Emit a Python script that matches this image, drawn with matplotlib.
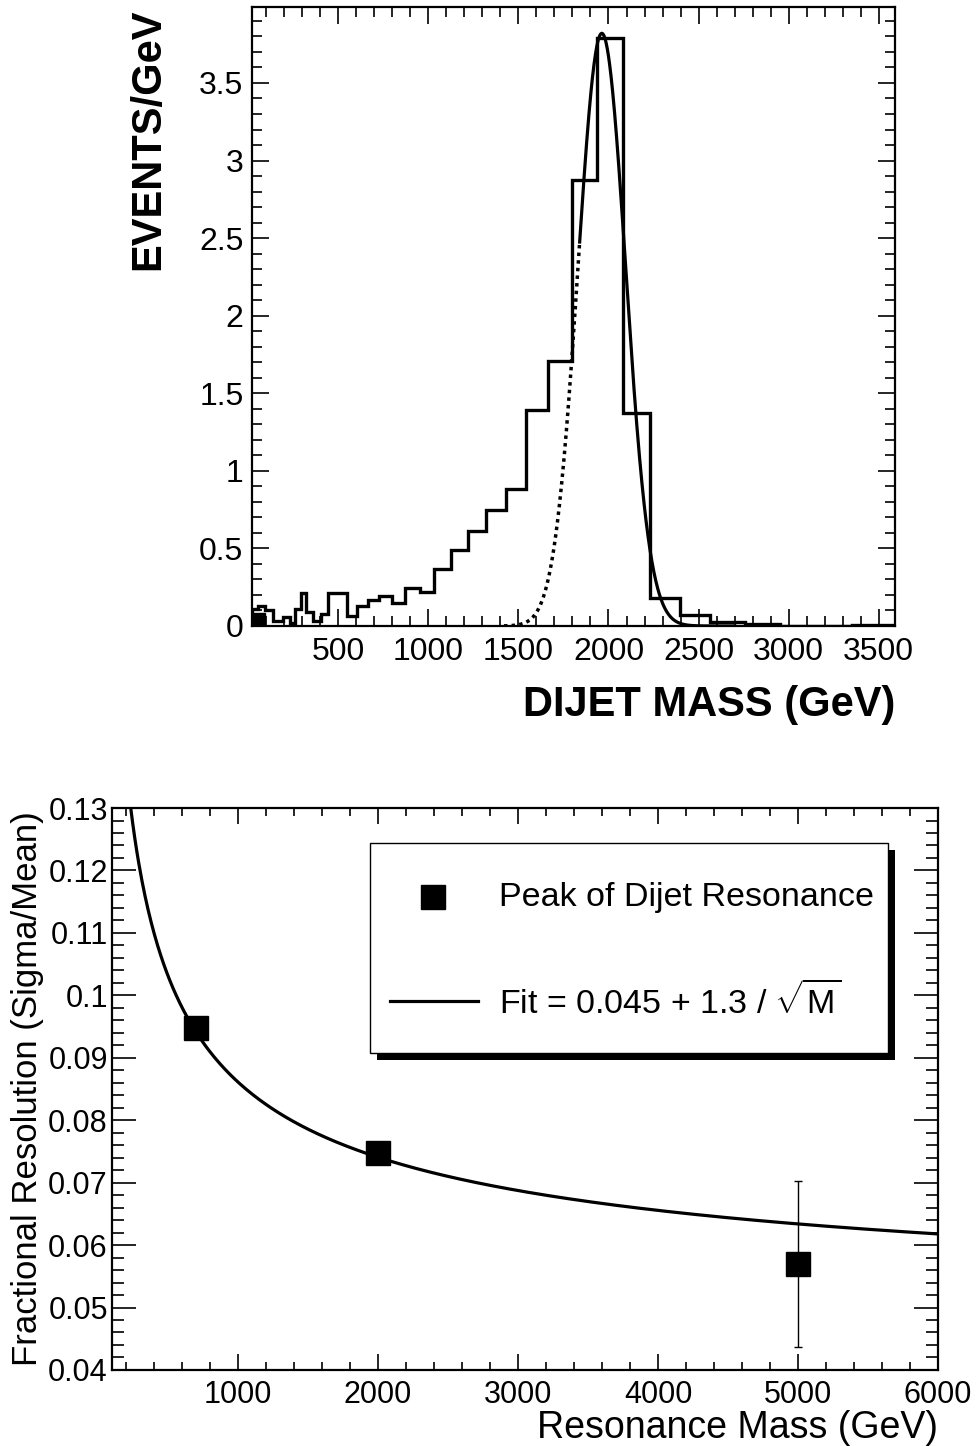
import numpy as np
import matplotlib
matplotlib.use("Agg")
import matplotlib.pyplot as plt
from matplotlib.patches import Rectangle
from matplotlib.ticker import MultipleLocator, FormatStrFormatter

plt.rcParams['font.family'] = ['Liberation Sans', 'DejaVu Sans']
plt.rcParams['mathtext.fontset'] = 'custom'
plt.rcParams['mathtext.rm'] = 'Liberation Sans'

# dijet mass spectrum for a 2 TeV resonance (variable bins, GeV)
mass_edges = [20, 55, 93, 139, 193, 232, 260, 293, 322, 358,
              404, 446, 495, 550, 604, 665, 725, 800, 869, 954,
              1033, 1124, 1222, 1320, 1430, 1543, 1666, 1796, 1939, 2081,
              2231, 2397, 2566, 2757, 2950, 3150, 3353, 3590]
events_per_gev = [0.11, 0.13, 0.10, 0.035, 0.06, 0.02, 0.11, 0.21, 0.09, 0.035,
                  0.08, 0.21, 0.21, 0.065, 0.13, 0.165, 0.19, 0.15, 0.245, 0.22,
                  0.37, 0.49, 0.61, 0.75, 0.885, 1.395, 1.705, 2.875, 3.79, 1.37,
                  0.18, 0.068, 0.024, 0.011, 0.003, 0.003, 0.007]
low_marker_x = [60]
low_marker_y = [0.045]

# gaussian fit to the peak
fit_norm = 3.82
fit_mean = 1963.0
fit_sigma = 132.0
fit_range = (1840, 2700)
fit_extension = (1420, 1840)

# fractional resolution vs resonance mass
res_mass = [700, 2000, 5000]
res_frac = [0.0947, 0.0748, 0.0570]
res_err = [0.0012, 0.0004, 0.0133]
res_a = 0.045
res_b = 1.3


def gauss(x):
    return fit_norm * np.exp(-0.5 * ((x - fit_mean) / fit_sigma) ** 2)


fig = plt.figure(figsize=(9.78, 14.46), dpi=100)

# ---- top: dijet mass histogram ----
ax1 = fig.add_axes([0.2574, 0.5671, 0.6577, 0.4281])
ax1.stairs(events_per_gev, mass_edges, color='black', lw=2.4, baseline=0)
ax1.plot(low_marker_x, low_marker_y, 's', color='black', ms=9)

xs = np.linspace(*fit_range, 400)
ax1.plot(xs, gauss(xs), color='black', lw=2.3)
xd = np.linspace(*fit_extension, 200)
ax1.plot(xd, gauss(xd), color='black', lw=2.5, linestyle=(0, (1, 1.2)))

ax1.set_xlim(20, 3590)
ax1.set_ylim(0, 3.99)
ax1.xaxis.set_major_locator(MultipleLocator(500))
ax1.xaxis.set_minor_locator(MultipleLocator(100))
ax1.yaxis.set_major_locator(MultipleLocator(0.5))
ax1.yaxis.set_minor_locator(MultipleLocator(0.1))
ax1.yaxis.set_major_formatter(FormatStrFormatter('%g'))
ax1.tick_params(which='both', direction='in', top=True, right=True, width=1.2)
ax1.tick_params(which='major', length=12, labelsize=23)
ax1.tick_params(which='minor', length=7)
ax1.tick_params(axis='x', which='major', pad=8)
ax1.tick_params(axis='y', which='major', pad=6)
for s in ax1.spines.values():
    s.set_linewidth(1.6)

ax1.set_xlabel('DIJET MASS (GeV)', fontsize=30, fontweight='bold', loc='right', va='center')
ax1.xaxis.set_label_coords(1.0, -0.128)
ax1.set_ylabel('EVENTS/GeV', fontsize=30, fontweight='bold', loc='top', va='center')
ax1.yaxis.set_label_coords(-0.161, 0.997)

# ---- bottom: resolution vs mass ----
ax2 = fig.add_axes([0.1145, 0.0526, 0.8446, 0.3886])
m = np.linspace(100, 6000, 800)
ax2.plot(m, res_a + res_b / np.sqrt(m), color='black', lw=2.3)
ax2.errorbar(res_mass, res_frac, yerr=res_err, fmt='none', ecolor='black',
             elinewidth=1.0, capsize=3, capthick=1.0)
ax2.plot(res_mass, res_frac, 's', color='black', ms=17)

ax2.set_xlim(100, 6000)
ax2.set_ylim(0.04, 0.13)
ax2.xaxis.set_major_locator(MultipleLocator(1000))
ax2.xaxis.set_minor_locator(MultipleLocator(200))
ax2.yaxis.set_major_locator(MultipleLocator(0.01))
ax2.yaxis.set_minor_locator(MultipleLocator(0.002))
ax2.yaxis.set_major_formatter(FormatStrFormatter('%g'))
ax2.tick_params(which='both', direction='in', top=True, right=True, width=1.2)
ax2.tick_params(axis='x', which='major', length=11.5, labelsize=22, pad=7)
ax2.tick_params(axis='x', which='minor', length=6)
ax2.tick_params(axis='y', which='major', length=17, labelsize=22, pad=3)
ax2.tick_params(axis='y', which='minor', length=8.5)
for s in ax2.spines.values():
    s.set_linewidth(1.6)

ax2.set_xlabel('Resonance Mass (GeV)', fontsize=27, loc='right', va='center')
ax2.xaxis.set_label_coords(1.0, -0.104)
ax2.set_ylabel('Fractional Resolution (Sigma/Mean)', fontsize=25, va='center')
ax2.yaxis.set_label_coords(-0.102, 0.5)

# legend box with drop shadow
bx0, by0, bx1, by1 = 0.3123, 0.5641, 0.9395, 0.9377
ax2.add_patch(Rectangle((bx0 + 0.0085, by0 - 0.0125), bx1 - bx0, by1 - by0,
                        transform=ax2.transAxes, facecolor='black', edgecolor='none', zorder=5))
ax2.add_patch(Rectangle((bx0, by0), bx1 - bx0, by1 - by0, transform=ax2.transAxes,
                        facecolor='white', edgecolor='black', lw=1.0, zorder=6))
ax2.plot([0.3886], [0.8416], 's', color='black', ms=17, transform=ax2.transAxes, zorder=7)
ax2.text(0.4685, 0.8416, 'Peak of Dijet Resonance', transform=ax2.transAxes,
         fontsize=24.5, va='center', ha='left', zorder=7)
ax2.plot([0.3366, 0.4431], [0.6566, 0.6566], color='black', lw=2.3,
         transform=ax2.transAxes, zorder=7)
ax2.text(0.4685, 0.6566, r'Fit = 0.045 + 1.3 / $\sqrt{\mathrm{M}}$', transform=ax2.transAxes,
         fontsize=24.5, va='center', ha='left', zorder=7)

fig.savefig('out.png', dpi=100)
